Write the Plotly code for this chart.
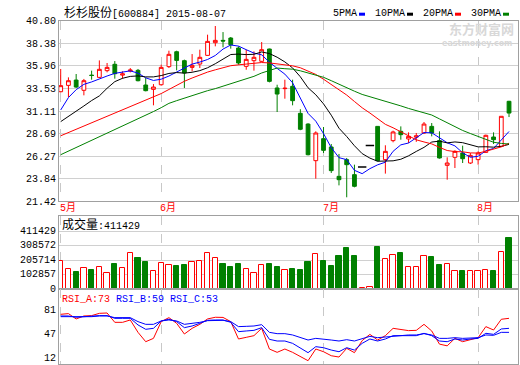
import plotly.graph_objects as go
import pandas as pd

W, H = 520, 365

stock_name = "杉杉股份"
stock_code = "600884"
stock_date = "2015-08-07"
month_labels = ["5月", "6月", "7月", "8月"]
month_start = [0, 13, 34, 54]
price_tick_labels = ["21.42", "23.84", "26.27", "28.69", "31.11", "33.53", "35.96", "38.38", "40.80"]
vol_tick_labels = [0, 102857, 205714, 308572, 411429]
rsi_tick_labels = [12, 47, 81]
ma_names = ["5PMA", "10PMA", "20PMA", "30PMA"]

opens = [33.18, 33.86, 34.43, 33.33, 34.96, 34.72, 35.44, 36.12, 34.96, 35.40,
         35.47, 33.90, 33.43, 33.93, 35.87, 37.47, 36.51, 35.79, 36.15, 37.08,
         38.44, 38.69, 38.94, 37.87, 35.90, 36.51, 36.44, 37.76, 33.58, 33.51,
         33.76, 30.86, 29.71, 25.78, 28.14, 27.25, 24.10, 25.89, 24.28, 25.10,
         27.40, 29.46, 25.89, 27.93, 28.93, 28.11, 28.30, 28.75, 29.46, 27.93,
         25.28, 26.14, 26.60, 25.53, 25.89, 26.67, 28.32, 27.32, 32.15]
highs = [35.62, 34.72, 35.08, 34.55, 35.44, 36.54, 36.26, 36.47, 35.37, 35.72,
         35.62, 34.65, 34.00, 36.08, 37.58, 37.58, 36.62, 37.22, 37.69, 39.30,
         40.23, 39.58, 39.05, 38.05, 37.69, 37.51, 38.51, 37.80, 33.93, 34.47,
         34.47, 31.30, 29.80, 28.93, 29.39, 27.57, 26.50, 26.07, 25.35, 25.10,
         27.40, 29.50, 27.43, 29.00, 29.46, 28.82, 28.75, 29.93, 29.82, 28.93,
         26.14, 26.90, 27.39, 26.60, 26.78, 28.57, 28.82, 30.54, 32.20]
lows = [33.10, 32.61, 33.58, 32.79, 34.47, 34.65, 35.26, 34.58, 34.58, 35.26,
        34.29, 33.22, 31.72, 33.83, 35.72, 35.47, 33.58, 35.36, 35.72, 37.05,
        38.05, 37.94, 37.80, 36.08, 35.54, 35.44, 36.37, 34.18, 31.00, 32.43,
        31.72, 29.05, 26.35, 23.85, 26.60, 24.46, 23.13, 21.85, 22.92, 25.10,
        27.40, 25.70, 24.39, 27.75, 28.03, 27.68, 27.80, 28.64, 28.39, 26.00,
        23.74, 24.99, 25.53, 25.42, 25.35, 26.60, 27.57, 27.25, 30.46]
closes = [33.83, 34.36, 33.68, 34.36, 34.92, 35.58, 35.79, 35.11, 35.10, 35.50,
          34.36, 33.29, 33.68, 35.79, 37.19, 36.54, 35.19, 36.01, 36.87, 38.58,
          38.69, 38.62, 38.22, 36.26, 36.65, 36.87, 37.69, 34.29, 32.93, 33.55,
          32.22, 29.15, 26.42, 28.75, 26.89, 24.71, 23.74, 25.35, 23.03, 25.10,
          27.40, 25.78, 26.78, 28.86, 28.57, 28.39, 28.45, 29.71, 28.75, 26.07,
          25.53, 26.78, 25.99, 26.35, 26.60, 28.50, 28.03, 30.54, 30.89]
volumes = [223200, 158650, 134450, 172100, 150600, 180150, 131750, 199000, 166700, 285000,
           247400, 215100, 147900, 212400, 196300, 182850, 190900, 220500, 228600, 285000,
           244700, 199000, 174800, 199000, 164000, 131750, 196300, 199000, 174800, 156000,
           158650, 150600, 215100, 277000, 223200, 182850, 263500, 325400, 263500, 8000,
           13400, 336100, 239300, 268900, 287700, 180150, 180150, 260800, 255500, 190900,
           204400, 147900, 147900, 147900, 147900, 156000, 142500, 293100, 411429]

ma5_head = [31.22, 32.55, 33.40, 33.97]
ma10_head = [29.97, 30.51, 31.05, 31.65, 32.23, 32.73, 33.55, 34.26, 34.62]
ma20_head = [28.45, 28.80, 29.15, 29.50, 29.85, 30.20, 30.55, 30.88, 31.22, 31.56,
             31.90, 32.24, 32.58, 32.98, 33.42, 33.90, 34.30, 34.65, 35.00]
ma30_head = [26.42, 26.80, 27.18, 27.58, 27.97, 28.36, 28.75, 29.14, 29.52, 29.90,
             30.28, 30.66, 31.05, 31.47, 31.93, 32.22, 32.50, 32.75, 33.04, 33.29,
             33.51, 33.76, 34.01, 34.29, 34.58, 34.83, 35.19, 35.47, 35.72]

rsi_a = [79.1, 80.1, 72.4, 76.7, 77.2, 80.5, 81.0, 67.5, 67.5, 70.9,
         53.0, 39.5, 44.3, 68.5, 74.3, 66.1, 50.6, 58.8, 64.6, 72.4,
         74.8, 74.6, 68.5, 43.4, 45.8, 48.2, 58.8, 28.9, 24.1, 28.9,
         24.1, 17.8, 12.0, 28.9, 25.0, 19.2, 17.3, 29.9, 23.6, 41.0,
         50.1, 41.9, 48.2, 58.8, 57.4, 55.5, 55.9, 64.6, 55.0, 36.0,
         33.5, 44.3, 39.5, 42.9, 45.3, 61.3, 56.4, 71.9, 73.3]
rsi_b = [76.7, 76.7, 74.8, 75.7, 76.2, 77.2, 77.2, 73.3, 73.3, 73.3,
         63.7, 57.4, 58.8, 69.5, 71.9, 68.5, 59.8, 62.2, 66.1, 70.4,
         70.9, 70.9, 67.5, 54.0, 55.0, 55.9, 59.8, 42.9, 40.5, 40.5,
         37.1, 29.9, 23.6, 32.3, 30.8, 27.4, 25.0, 30.8, 27.4, 37.1,
         43.4, 40.5, 43.4, 48.2, 48.2, 48.2, 48.2, 51.6, 48.2, 40.5,
         39.5, 43.4, 41.9, 43.4, 44.3, 51.6, 50.1, 57.9, 58.8]
rsi_c = [75.7, 75.7, 75.2, 75.7, 75.7, 76.7, 76.7, 74.3, 74.3, 74.3,
         68.5, 64.6, 64.6, 69.5, 70.9, 69.5, 64.6, 65.6, 67.5, 69.9,
         70.4, 70.4, 68.5, 61.3, 61.7, 62.2, 64.1, 53.0, 51.1, 51.1,
         49.2, 45.3, 41.9, 44.3, 43.4, 41.9, 40.5, 42.4, 40.5, 44.3,
         47.2, 45.3, 46.3, 48.2, 49.2, 49.2, 49.2, 51.1, 49.2, 44.3,
         44.3, 45.3, 44.3, 44.8, 45.3, 49.2, 48.7, 53.0, 53.0]

RED = "#ff0000"
GREEN = "#008000"
BLUE = "#0000ff"
BLACK = "#000000"
GRID = "#d0d0d0"
FRAME = "#a0a0a0"
MONO = "Liberation Mono, Noto Sans CJK SC, monospace"

n = len(closes)
xs = list(range(n))
cs = pd.Series(closes)


def moving(period, head):
    vals = cs.rolling(period).mean().tolist()
    return head + vals[len(head):]


ma_lines = [moving(5, ma5_head), moving(10, ma10_head),
            moving(20, ma20_head), moving(30, ma30_head)]
ma_colors = [BLUE, BLACK, RED, GREEN]

flat = [i for i in xs if opens[i] == highs[i] == lows[i] == closes[i]]
norm = [i for i in xs if i not in flat]
up = [closes[i] >= opens[i] for i in xs]


def px(v):
    return v / W


def py(v):
    return 1 - v / H


fig = go.Figure()

fig.add_trace(go.Candlestick(
    x=norm,
    open=[opens[i] for i in norm], high=[highs[i] for i in norm],
    low=[lows[i] for i in norm], close=[closes[i] for i in norm],
    increasing=dict(line=dict(color=RED, width=1), fillcolor="#ffffff"),
    decreasing=dict(line=dict(color=GREEN, width=1), fillcolor=GREEN),
    whiskerwidth=0, showlegend=False, hoverinfo="skip", xaxis="x", yaxis="y"))

fig.add_trace(go.Scatter(
    x=flat, y=[closes[i] for i in flat], mode="markers",
    marker=dict(symbol="line-ew", size=6, line=dict(width=1.5, color=BLACK)),
    showlegend=False, hoverinfo="skip", xaxis="x", yaxis="y"))

for vals, col in zip(ma_lines, ma_colors):
    fig.add_trace(go.Scatter(x=xs, y=vals, mode="lines", line=dict(color=col, width=1),
                             showlegend=False, hoverinfo="skip", xaxis="x", yaxis="y"))

fig.add_trace(go.Bar(
    x=xs, y=volumes, width=0.68,
    marker=dict(color=["#ffffff" if u else GREEN for u in up],
                line=dict(color=[RED if u else GREEN for u in up], width=1)),
    showlegend=False, hoverinfo="skip", xaxis="x2", yaxis="y2"))

for vals, col in zip([rsi_a, rsi_b, rsi_c], [RED, BLUE, BLUE]):
    fig.add_trace(go.Scatter(x=xs, y=vals, mode="lines", line=dict(color=col, width=1),
                             showlegend=False, hoverinfo="skip", xaxis="x3", yaxis="y3"))

xdom = [px(59), px(518)]
xrng = [-0.22, 59.16]
xcommon = dict(domain=xdom, range=xrng, tickvals=month_start, showticklabels=False,
               showgrid=True, gridcolor="#c8c8c8", griddash="dash", gridwidth=1,
               showline=True, linecolor=FRAME, linewidth=1, mirror=True,
               zeroline=False, ticks="", fixedrange=True)

price_vals = [float(s) for s in price_tick_labels]
vol_grid_scale = 1.13
tick_font = dict(family=MONO, size=10, color=BLACK)

fig.update_layout(
    width=W, height=H, margin=dict(l=0, r=0, t=0, b=0, autoexpand=False),
    paper_bgcolor="#ffffff", plot_bgcolor="#ffffff", showlegend=False,
    bargap=0,
    xaxis=dict(**xcommon, anchor="y", rangeslider=dict(visible=False)),
    xaxis2=dict(**xcommon, anchor="y2", matches="x"),
    xaxis3=dict(**xcommon, anchor="y3", matches="x"),
    yaxis=dict(domain=[py(201.3), py(20.7)], range=[price_vals[0], price_vals[-1]],
               tickvals=price_vals, ticktext=price_tick_labels, tickfont=tick_font,
               showgrid=True, gridcolor=GRID, showline=True, linecolor=FRAME, mirror=True,
               zeroline=False, ticks="", anchor="x", automargin=False, ticklabeloverflow="allow"),
    yaxis2=dict(domain=[py(289), py(216)], range=[0, 585460],
                tickvals=[v * vol_grid_scale for v in vol_tick_labels],
                ticktext=[str(v) for v in vol_tick_labels], tickfont=tick_font,
                showgrid=True, gridcolor=GRID, showline=True, linecolor=FRAME, mirror=True,
                zeroline=False, ticks="", anchor="x2", automargin=False, ticklabeloverflow="allow",
                ticklabelshift=-1),
    yaxis3=dict(domain=[py(364), py(289)], range=[7.23, 115.7],
                tickvals=rsi_tick_labels, ticktext=[str(v) for v in rsi_tick_labels],
                tickfont=tick_font, showgrid=False, showline=True, linecolor=FRAME,
                mirror=True, zeroline=False, ticks="", anchor="x3", automargin=False,
                ticklabeloverflow="allow", ticklabelshift=-3),
)

ann = []
ann.append(dict(xref="paper", yref="paper", x=px(62), y=py(13.5), xanchor="left", yanchor="middle",
                text='<span style="font-size:12px">%s</span>[%s] %s' % (stock_name, stock_code, stock_date),
                showarrow=False, font=dict(family=MONO, size=10, color=BLACK)))

legend_pos = [(331, 359), (373, 407), (421, 455), (469, 503)]
shapes = []
for name, col, (tx, bx) in zip(ma_names, ma_colors, legend_pos):
    ann.append(dict(xref="paper", yref="paper", x=px(tx), y=py(13.5), xanchor="left", yanchor="middle",
                    text=name, showarrow=False, font=dict(family=MONO, size=10, color=BLACK)))
    shapes.append(dict(type="rect", xref="paper", yref="paper", x0=px(bx), x1=px(bx + 6),
                       y0=py(15.7), y1=py(12.7), fillcolor=col, line=dict(width=0)))

# watermark
ann.append(dict(xref="paper", yref="paper", x=px(481), y=py(28.5), xanchor="center", yanchor="middle",
                text="<b>东方财富网</b>", showarrow=False,
                font=dict(family="Noto Sans CJK SC", size=13, color="#d8d8d8")))
ann.append(dict(xref="paper", yref="paper", x=px(477), y=py(44), xanchor="center", yanchor="middle",
                text="<b>eastmoney.com</b>", showarrow=False,
                font=dict(family="DejaVu Sans", size=8, color="#d8d8d8")))

for lab, idx in zip(month_labels, month_start):
    ann.append(dict(xref="x", yref="paper", x=idx, y=py(207.5), xanchor="left", yanchor="middle",
                    xshift=-3, text=lab, showarrow=False, font=dict(family=MONO, size=10, color=RED)))

ann.append(dict(xref="paper", yref="paper", x=px(60), y=py(225.5), xanchor="left", yanchor="middle",
                text='<span style="font-size:12px">成交量</span>:%d' % volumes[-1], showarrow=False,
                font=dict(family=MONO, size=10, color=BLACK)))

rsi_text = ('<span style="color:%s">RSI_A:%d</span> <span style="color:%s">RSI_B:%d</span> '
            '<span style="color:%s">RSI_C:%d</span>') % (RED, round(rsi_a[-1]), BLUE, round(rsi_b[-1]),
                                                         BLUE, round(rsi_c[-1]))
ann.append(dict(xref="paper", yref="paper", x=px(60), y=py(299.5), xanchor="left", yanchor="middle",
                text=rsi_text, showarrow=False, font=dict(family=MONO, size=10, color=BLACK)))

fig.update_layout(annotations=ann, shapes=shapes)
fig.write_html("out.html", config={"displayModeBar": False},
               post_script="document.body.style.margin='0px';document.body.style.overflow='hidden';")
